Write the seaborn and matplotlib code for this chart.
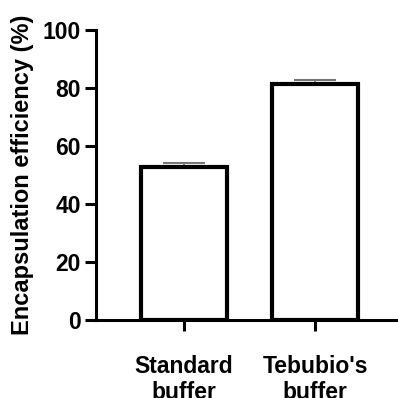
import matplotlib
matplotlib.use("Agg")
import matplotlib.pyplot as plt
import seaborn as sns
import pandas as pd

# dados
grupos = ["Standard\nbuffer", "Tebubio's\nbuffer"]
media = [52.8, 81.4]
erro = [1.2, 1.4]
yticks = [0, 20, 40, 60, 80, 100]

sns.set_style("ticks")
plt.rcParams['font.family'] = ['Liberation Sans', 'DejaVu Sans']
plt.rcParams['text.color'] = 'black'
plt.rcParams['axes.labelcolor'] = 'black'
plt.rcParams['xtick.color'] = 'black'
plt.rcParams['ytick.color'] = 'black'
plt.rcParams['axes.edgecolor'] = 'black'

dados = pd.DataFrame({"grupo": grupos, "media": media})

fig = plt.figure(figsize=(3.98, 3.98), dpi=100)
ax = fig.add_axes([0.241, 0.196, 0.759, 0.729])

sns.barplot(data=dados, x="grupo", y="media", color="white", width=0.65,
            edgecolor="black", linewidth=3.0, ax=ax, zorder=3)

# barra de erro so para cima (a parte de baixo fica escondida na barra)
ax.errorbar(range(len(grupos)), media, yerr=[[0] * len(erro), erro], fmt="none",
            ecolor="#777777", elinewidth=1.2, capsize=15, capthick=1.5, zorder=2)

ax.set_ylim(0, 100)
ax.set_xlim(-0.672, 1.633)
ax.set_yticks(yticks)
ax.set_xlabel("")
ax.set_ylabel("Encapsulation efficiency (%)", fontsize=17, fontweight="bold", labelpad=6)

sns.despine(ax=ax)
for s in ["left", "bottom"]:
    ax.spines[s].set_linewidth(2.2)
    ax.spines[s].set_clip_on(False)

ax.tick_params(axis="y", length=8, width=2.2, labelsize=16.5, pad=3)
ax.tick_params(axis="x", length=8, width=2.2, labelsize=16.5, pad=17)
for lab in ax.get_xticklabels() + ax.get_yticklabels():
    lab.set_fontweight("bold")

fig.savefig("out.png", dpi=100)
